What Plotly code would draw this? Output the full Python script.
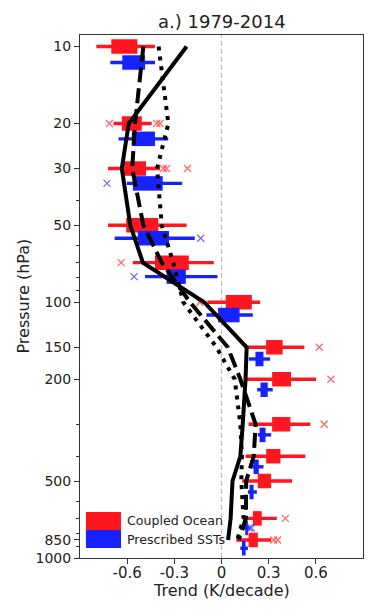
import plotly.graph_objects as go

# ---------------- data ----------------
levels = [10, 20, 30, 50, 70, 100, 150, 200, 300, 400, 500, 700, 850]

# Coupled Ocean (red) boxes
red_p = [10, 20, 30, 50, 70, 100, 150, 200, 300, 400, 500, 700, 850]
red_wlo = [-0.796, -0.687, -0.722, -0.722, -0.564, -0.090, 0.147, 0.161, 0.172, 0.153, 0.132, 0.135, 0.094]
red_q1 = [-0.701, -0.634, -0.634, -0.606, -0.423, 0.027, 0.284, 0.322, 0.322, 0.284, 0.231, 0.200, 0.172]
red_q3 = [-0.535, -0.507, -0.480, -0.402, -0.208, 0.193, 0.389, 0.442, 0.438, 0.375, 0.316, 0.256, 0.231]
red_whi = [-0.423, -0.444, -0.391, -0.222, -0.049, 0.246, 0.527, 0.601, 0.565, 0.533, 0.449, 0.352, 0.316]
red_out_x = [-0.713, -0.412, -0.391, -0.370, -0.349, -0.216, -0.638, -0.138, 0.622, 0.696, 0.653, 0.406, 0.332, 0.357]
red_out_p = [20, 20, 20, 30, 30, 30, 70, 100, 150, 200, 300, 700, 850, 850]

# Prescribed SSTs (blue) boxes
blue_p = [11.55, 22.96, 34.3, 56.2, 79.4, 112.2, 166.7, 219.8, 330, 440, 552, 763, 916]
blue_wlo = [-0.707, -0.655, -0.602, -0.680, -0.486, -0.096, 0.174, 0.227, 0.231, 0.196, 0.168, 0.142, 0.120]
blue_q1 = [-0.631, -0.570, -0.564, -0.532, -0.349, -0.022, 0.216, 0.248, 0.242, 0.204, 0.178, 0.151, 0.130]
blue_q3 = [-0.486, -0.423, -0.374, -0.334, -0.227, 0.115, 0.267, 0.294, 0.280, 0.237, 0.204, 0.168, 0.153]
blue_whi = [-0.423, -0.339, -0.250, -0.170, -0.026, 0.199, 0.309, 0.326, 0.316, 0.267, 0.225, 0.178, 0.168]
blue_out_x = [-0.728, -0.132, -0.556, 0.176, 0.190]
blue_out_p = [34.3, 56.2, 79.4, 763, 763]

# black profile lines
solid_x = [-0.222, -0.590, -0.634, -0.580, -0.500, -0.110, 0.160, 0.153, 0.135, 0.120, 0.070, 0.058, 0.042]
dashed_x = [-0.497, -0.550, -0.568, -0.497, -0.380, -0.200, 0.040, 0.120, 0.217, 0.205, 0.157, 0.155, 0.110]
dotted_x = [-0.400, -0.338, -0.410, -0.380, -0.307, -0.243, -0.032, 0.084, 0.120, 0.130, 0.126, 0.140, 0.100]

x_ticks = [-0.6, -0.3, 0, 0.3, 0.6]
x_tick_labels = ["-0.6", "-0.3", "0", "0.3", "0.6"]
y_ticks = [10, 20, 30, 50, 100, 150, 200, 500, 850, 1000]
y_minor = [40, 60, 70, 80, 90, 300, 400, 600, 700, 800, 900]

RED = "rgb(255,22,30)"
BLUE = "rgb(22,34,255)"
FONT = "DejaVu Sans"
TXT = "#222"


def segs(lo, hi, p):
    xs, ys = [], []
    for a, b, y in zip(lo, hi, p):
        xs += [a, b, None]
        ys += [y, y, None]
    return xs, ys


fig = go.Figure()

for (lo, hi, q1, q3, p, col) in [
    (red_wlo, red_whi, red_q1, red_q3, red_p, RED),
    (blue_wlo, blue_whi, blue_q1, blue_q3, blue_p, BLUE),
]:
    wx, wy = segs(lo, hi, p)
    fig.add_trace(go.Scatter(x=wx, y=wy, mode="lines", line=dict(color=col, width=3.4),
                             showlegend=False, hoverinfo="skip"))
    bx, by = segs(q1, q3, p)
    fig.add_trace(go.Scatter(x=bx, y=by, mode="lines", line=dict(color=col, width=14.5),
                             showlegend=False, hoverinfo="skip"))

fig.add_trace(go.Scatter(x=red_out_x, y=red_out_p, mode="markers",
                         marker=dict(symbol="x-thin", size=7, line=dict(color="rgba(255,40,40,0.7)", width=1.3)),
                         showlegend=False, hoverinfo="skip"))
fig.add_trace(go.Scatter(x=blue_out_x, y=blue_out_p, mode="markers",
                         marker=dict(symbol="x-thin", size=7, line=dict(color="rgba(40,50,255,0.7)", width=1.3)),
                         showlegend=False, hoverinfo="skip"))

fig.add_trace(go.Scatter(x=solid_x, y=levels, mode="lines",
                         line=dict(color="black", width=4), showlegend=False))
fig.add_trace(go.Scatter(x=dashed_x, y=levels, mode="lines",
                         line=dict(color="black", width=4, dash="15px,6px"), showlegend=False))
fig.add_trace(go.Scatter(x=dotted_x, y=levels, mode="lines",
                         line=dict(color="black", width=4, dash="4px,6px"), showlegend=False))

# zero line
fig.add_shape(type="line", xref="x", yref="paper", x0=0, x1=0, y0=0, y1=1,
              line=dict(color="rgb(190,190,190)", width=1.2, dash="5px,3px"), layer="below")

# legend (manual)
fig.add_shape(type="rect", xref="paper", yref="paper", x0=0.021, x1=0.145, y0=0.0535, y1=0.088,
              fillcolor=RED, line=dict(width=0))
fig.add_shape(type="rect", xref="paper", yref="paper", x0=0.021, x1=0.145, y0=0.019, y1=0.0535,
              fillcolor=BLUE, line=dict(width=0))
fig.add_annotation(xref="paper", yref="paper", x=0.160, y=0.072, text="Coupled Ocean",
                   showarrow=False, xanchor="left", yanchor="middle",
                   font=dict(family=FONT, size=12.6, color=TXT))
fig.add_annotation(xref="paper", yref="paper", x=0.160, y=0.036, text="Prescribed SSTs",
                   showarrow=False, xanchor="left", yanchor="middle",
                   font=dict(family=FONT, size=12.6, color=TXT))

# titles
fig.add_annotation(xref="paper", yref="paper", x=0.5, y=1, yshift=14, text="a.) 1979-2014",
                   showarrow=False, xanchor="center", yanchor="middle",
                   font=dict(family=FONT, size=18, color=TXT))
fig.add_annotation(xref="paper", yref="paper", x=0.5, y=0, yshift=-32, text="Trend (K/decade)",
                   showarrow=False, xanchor="center", yanchor="middle",
                   font=dict(family=FONT, size=16, color=TXT))
fig.add_annotation(xref="paper", yref="paper", x=0, y=0.5, xshift=-57, text="Pressure (hPa)",
                   textangle=-90, showarrow=False, xanchor="center", yanchor="middle",
                   font=dict(family=FONT, size=16, color=TXT))

fig.update_layout(
    width=378, height=608,
    margin=dict(l=72, r=23, t=27, b=58),
    paper_bgcolor="white", plot_bgcolor="white",
    font=dict(family=FONT, color=TXT),
    showlegend=False,
)
fig.update_xaxes(
    range=[-0.9, 0.9], tickvals=x_ticks, ticktext=x_tick_labels, automargin=False,
    showgrid=False, zeroline=False, showline=True, linecolor="#333", linewidth=1, mirror=True,
    ticks="outside", ticklen=5, tickcolor="#333", tickfont=dict(family=FONT, size=15, color=TXT),
    ticklabelstandoff=-4,
)
fig.update_yaxes(
    type="log", range=[3, 0.955], tickvals=y_ticks, ticktext=[str(v) for v in y_ticks], automargin=False,
    showgrid=False, zeroline=False, showline=True, linecolor="#333", linewidth=1, mirror=True,
    ticks="outside", ticklen=5, tickcolor="#333", tickfont=dict(family=FONT, size=14, color=TXT),
    minor=dict(tickvals=y_minor, ticks="outside", ticklen=3, tickcolor="#333", showgrid=False),
)

fig.write_html("out.html")
